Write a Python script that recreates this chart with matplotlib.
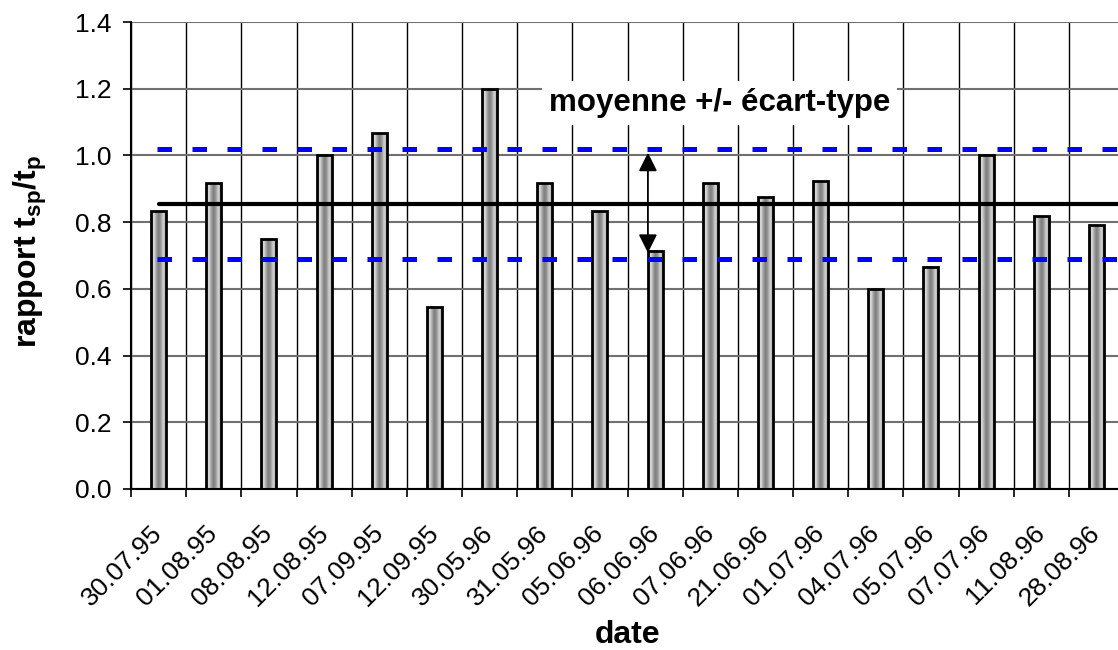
import matplotlib
matplotlib.use("Agg")
import matplotlib.pyplot as plt
import numpy as np
from matplotlib.colors import LinearSegmentedColormap

plt.rcParams['font.family'] = ['Liberation Sans', 'DejaVu Sans']
plt.rcParams['mathtext.fontset'] = 'custom'
plt.rcParams['mathtext.bf'] = 'Liberation Sans:bold'
plt.rcParams['mathtext.rm'] = 'Liberation Sans'

# data
dates = ['30.07.95', '01.08.95', '08.08.95', '12.08.95', '07.09.95', '12.09.95',
         '30.05.96', '31.05.96', '05.06.96', '06.06.96', '07.06.96', '21.06.96',
         '01.07.96', '04.07.96', '05.07.96', '07.07.96', '11.08.96', '28.08.96']
ratio = [0.833, 0.917, 0.75, 1.0, 1.067, 0.545,
         1.2, 0.917, 0.833, 0.714, 0.917, 0.875,
         0.923, 0.6, 0.667, 1.0, 0.818, 0.79]
mean_val = 0.853
sd_upper = 1.02
sd_lower = 0.69

fig = plt.figure(figsize=(11.18, 6.5), dpi=100)
# plot area runs a little past the right edge of the picture, like the original
ax = fig.add_axes([131/1118, 1 - 489/650, 993/1118, 467/650])

x = np.arange(len(dates))
bar_w = 0.27

# cylinder-like shading for the bars
shade = LinearSegmentedColormap.from_list(
    'shade', ['#8c8c8c', '#e6e6e6', '#a8a8a8', '#7a7a7a', '#9a9a9a', '#d8d8d8', '#a0a0a0'])
grad = np.linspace(0, 1, 64).reshape(1, -1)
for xi, v in zip(x, ratio):
    ax.imshow(grad, cmap=shade, aspect='auto', extent=[xi - bar_w/2, xi + bar_w/2, 0, v],
              zorder=2, interpolation='bicubic')
ax.bar(x, ratio, width=bar_w, facecolor='none', edgecolor='black', linewidth=2, zorder=3)

# mean and +/- sd lines
ax.plot([0, len(dates) - 0.5], [mean_val, mean_val], color='black', lw=3, zorder=4,
        solid_capstyle='round')
for lvl in (sd_upper, sd_lower):
    ax.plot([-0.03, len(dates) - 0.5], [lvl, lvl], color='#0000ff', lw=3.6,
            linestyle=(0, (2.9, 4.1)), zorder=4)

ax.annotate('', xy=(8.87, sd_upper - 0.012), xytext=(8.87, sd_lower + 0.018),
            arrowprops=dict(arrowstyle='<|-|>', color='black', lw=1.3,
                            mutation_scale=28, shrinkA=0, shrinkB=0), zorder=5)
ax.text(10.17, 1.157, 'moyenne +/- écart-type', ha='center', va='center',
        fontsize=22.5, fontweight='bold', zorder=6,
        bbox=dict(facecolor='white', edgecolor='none', pad=5))

ax.set_xlim(-0.5, len(dates) - 0.5)
ax.set_ylim(0, 1.4)
ax.set_yticks(np.arange(0, 1.41, 0.2))
ax.set_yticklabels([f'{t:.1f}' for t in np.arange(0, 1.41, 0.2)], fontsize=19)

ax.set_xticks(np.arange(-0.5, len(dates), 1.0))
ax.set_xticklabels([])
ax.set_xticks(x, minor=True)
ax.set_xticklabels(dates, minor=True, rotation=45, ha='right', va='center',
                   rotation_mode='anchor', fontsize=19)
ax.tick_params(axis='x', which='minor', length=0, pad=29)
ax.tick_params(axis='x', which='major', length=6, width=1.2, direction='out')
ax.tick_params(axis='y', length=6, width=1.2, direction='out', pad=8)

ax.grid(axis='x', which='major', color='black', lw=1, zorder=0)
ax.grid(axis='y', color='#707070', lw=1.5, zorder=0)
ax.set_axisbelow(True)
for side in ('top', 'right'):
    ax.spines[side].set_visible(False)
ax.spines['left'].set_linewidth(1.5)
ax.spines['bottom'].set_linewidth(1.5)

ax.set_ylabel(r'rapport t$_{\mathbf{sp}}$/t$_{\mathbf{p}}$', fontsize=23, fontweight='bold',
              va='center')
ax.yaxis.set_label_coords(-0.1017, 0.51)
ax.set_xlabel('date', fontsize=23, fontweight='bold', va='center')
ax.xaxis.set_label_coords(0.5, -0.3126)

fig.savefig('out.png', dpi=100)
